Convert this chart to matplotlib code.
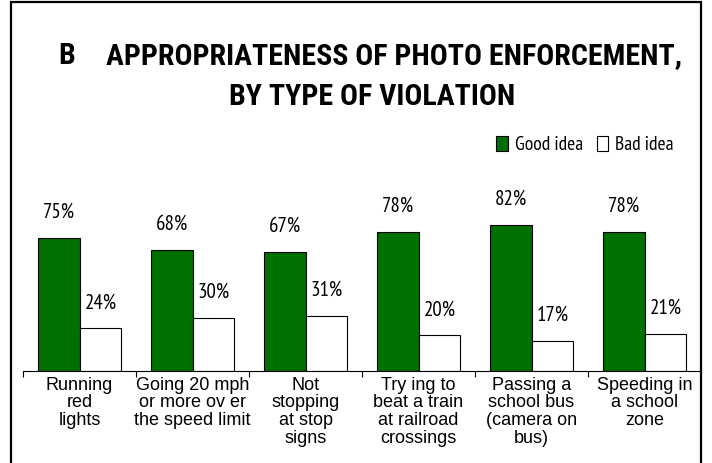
import numpy as np
import matplotlib
matplotlib.use("Agg")
import matplotlib.pyplot as plt
from matplotlib.patches import Rectangle

# Données
categories = ["Running\nred\nlights",
              "Going 20 mph\nor more ov er\nthe speed limit",
              "Not\nstopping\nat stop\nsigns",
              "Try ing to\nbeat a train\nat railroad\ncrossings",
              "Passing a\nschool bus\n(camera on\nbus)",
              "Speeding in\na school\nzone"]
good_idea = [75, 68, 67, 78, 82, 78]
bad_idea = [24, 30, 31, 20, 17, 21]
series_names = ["Good idea", "Bad idea"]

narrow = ["PT Sans Narrow", "Archivo Narrow", "Liberation Sans", "DejaVu Sans"]
title_font = ["Roboto Condensed", "PT Sans Narrow", "Liberation Sans", "DejaVu Sans"]
plain = ["Liberation Sans", "DejaVu Sans"]

W, H = 712, 463
fig = plt.figure(figsize=(W / 100, H / 100), dpi=100)

# Cadre autour du graphique
fig.patches.append(Rectangle((11 / W, -0.1), 690 / W, 1.1 - 2 / H,
                             transform=fig.transFigure, fill=False,
                             edgecolor="black", linewidth=1.6))

# Axes : ligne de base à y=371 px, 1.78 px par %
ax = fig.add_axes([23 / W, 92 / H, 678 / W, 178 / H])
x = np.arange(len(categories))
w = 0.37
b1 = ax.bar(x - w / 2, good_idea, w, color="#007000", edgecolor="black", linewidth=0.8)
b2 = ax.bar(x + w / 2, bad_idea, w, color="white", edgecolor="black", linewidth=0.8)

for bars, vals in ((b1, good_idea), (b2, bad_idea)):
    for r, v in zip(bars, vals):
        ax.annotate(f"{v}%", (r.get_x() + r.get_width() / 2, v),
                    xytext=(0, 14.4), textcoords="offset points",
                    ha="center", va="baseline", fontsize=15, family=narrow)

ax.set_xlim(-0.5, len(categories) - 0.5)
ax.set_ylim(0, 100)
for s in ("top", "right", "left"):
    ax.spines[s].set_visible(False)
ax.spines["bottom"].set_linewidth(0.8)
ax.set_yticks([])
ax.set_xticks(np.arange(len(categories) + 1) - 0.5)
ax.set_xticklabels([])
ax.tick_params(axis="x", direction="out", length=4, width=0.8)

for i, lab in enumerate(categories):
    ax.annotate(lab, (i, 0), xytext=(0, -4), textcoords="offset points",
                ha="center", va="top", fontsize=13, family=plain,
                linespacing=1.05, annotation_clip=False)

# Titre
fig.text(67 / W, 1 - 64 / H, "B", ha="center", va="baseline",
         fontsize=21.5, fontweight="bold", family=title_font)
fig.text(394 / W, 1 - 64 / H, "APPROPRIATENESS OF PHOTO ENFORCEMENT,",
         ha="center", va="baseline", fontsize=21.5, fontweight="bold", family=title_font)
fig.text(372 / W, 1 - 105 / H, "BY TYPE OF VIOLATION",
         ha="center", va="baseline", fontsize=21.5, fontweight="bold", family=title_font)

# Légende
leg = ax.legend([b1, b2], series_names, ncol=2, frameon=False,
                loc="center", bbox_to_anchor=(585 / W, 1 - 145 / H),
                bbox_transform=fig.transFigure, handlelength=0.6,
                handleheight=0.8, handletextpad=0.35, columnspacing=0.7,
                prop={"family": narrow, "size": 14})

fig.savefig("out.png", dpi=100)
